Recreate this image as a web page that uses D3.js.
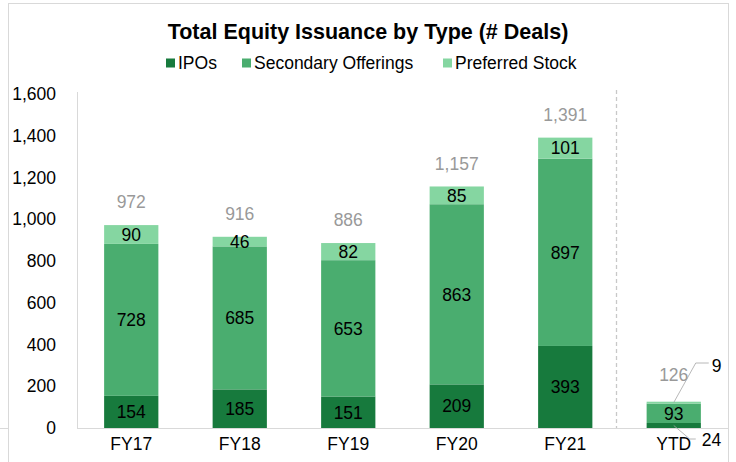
<!DOCTYPE html>
<html>
<head>
<meta charset="utf-8">
<style>
  body { margin: 0; background: #fff; }
  text { font-family: "Liberation Sans", Arial, sans-serif; }
</style>
</head>
<body>
<svg id="chart" width="736" height="462"></svg>
<script src="https://cdn.jsdelivr.net/npm/d3@7"></script>
<script>
// data
var years = ['FY17', 'FY18', 'FY19', 'FY20', 'FY21', 'YTD']
var ipos = [154, 185, 151, 209, 393, 24]
var secondary = [728, 685, 653, 863, 897, 93]
var preferred = [90, 46, 82, 85, 101, 9]
var seriesNames = ['IPOs', 'Secondary Offerings', 'Preferred Stock']
var yTicks = [0, 200, 400, 600, 800, 1000, 1200, 1400, 1600]

var colors = ['#177a3d', '#4aad6f', '#85d6a1']
var fs = 17.5

let svg = d3.select('#chart')

// outer frame (spreadsheet chart box)
svg.append('rect')
  .attr('x', 8.5).attr('y', 3.5)
  .attr('width', 720).attr('height', 470)
  .attr('fill', 'white').attr('stroke', '#d9d9d9')
svg.append('line')   // cell gridline poking out left
  .attr('x1', 0).attr('x2', 8).attr('y1', 428.5).attr('y2', 428.5)
  .attr('stroke', '#d9d9d9')

let table = years.map((y, i) => ({ year: y, IPOs: ipos[i], 'Secondary Offerings': secondary[i], 'Preferred Stock': preferred[i], total: ipos[i] + secondary[i] + preferred[i] }))

let x = d3.scaleBand().domain(years).range([77, 728]).paddingInner(0.5).paddingOuter(0.25)
let y = d3.scaleLinear().domain([0, 1600]).range([428, 94])

let stack = d3.stack().keys(seriesNames)(table)

// y axis
let yAxis = svg.append('g')
  .attr('transform', 'translate(77,0)')
  .call(d3.axisLeft(y).tickValues(yTicks).tickSize(0).tickPadding(21).tickFormat(d3.format(',')))
yAxis.select('.domain').attr('stroke', '#d9d9d9').attr('d', 'M0.5,92V428')
yAxis.selectAll('text').attr('font-size', fs).attr('fill', '#000')
  .style('font-family', '"Liberation Sans", Arial, sans-serif')

// x axis
let xAxis = svg.append('g')
  .attr('transform', 'translate(0,428)')
  .call(d3.axisBottom(x).tickSize(0).tickPadding(10))
xAxis.select('.domain').attr('stroke', '#d9d9d9').attr('d', 'M77,0.5H728')
xAxis.selectAll('text').attr('font-size', fs).attr('fill', '#000')
  .style('font-family', '"Liberation Sans", Arial, sans-serif')

// dashed separator before YTD
let sepX = x('YTD') - (x.step() - x.bandwidth()) / 2 - 3
svg.append('line')
  .attr('x1', sepX).attr('x2', sepX)
  .attr('y1', 90).attr('y2', 428)
  .attr('stroke', '#c8c8c8').attr('stroke-width', 1.3)
  .attr('stroke-dasharray', '4,3')

// bars
let layers = svg.selectAll('g.layer')
  .data(stack).enter().append('g')
  .attr('class', 'layer')
  .attr('fill', (d, i) => colors[i])

layers.selectAll('rect')
  .data(d => d).enter().append('rect')
  .attr('x', d => x(d.data.year))
  .attr('width', x.bandwidth())
  .attr('y', d => y(d[1]))
  .attr('height', d => y(d[0]) - y(d[1]))

// segment labels (not for YTD small ones)
stack.forEach((layer, li) => {
  layer.forEach(d => {
    let yr = d.data.year
    if (yr == 'YTD' && li != 1) return
    svg.append('text')
      .attr('x', x(yr) + x.bandwidth() / 2)
      .attr('y', (y(d[0]) + y(d[1])) / 2)
      .attr('dy', '0.36em')
      .attr('text-anchor', 'middle')
      .attr('font-size', fs)
      .attr('fill', '#000')
      .text(d3.format(',')(d[1] - d[0]))
  })
})

// totals
table.forEach(d => {
  let cx = x(d.year) + x.bandwidth() / 2
  svg.append('text')
    .attr('x', cx)
    .attr('y', d.year == 'YTD' ? 375 : y(d.total) - 23)
    .attr('dy', '0.36em')
    .attr('text-anchor', 'middle')
    .attr('font-size', fs)
    .attr('fill', '#999999')
    .text(d3.format(',')(d.total))
})

// YTD leader lines for small segments
let ytdCx = x('YTD') + x.bandwidth() / 2
let ytd = table[5]
svg.append('polyline')
  .attr('points', [[ytdCx, y(ytd.total - 4)], [ytdCx + 22, 363], [ytdCx + 35, 363]].join(' '))
  .attr('fill', 'none').attr('stroke', '#a6a6a6').attr('stroke-width', 0.8)
svg.append('text')
  .attr('x', ytdCx + 38).attr('y', 366).attr('dy', '0.36em')
  .attr('font-size', fs).attr('fill', '#000').text(preferred[5])
svg.append('polyline')
  .attr('points', [[ytdCx, y(12)], [ytdCx + 16, 439], [ytdCx + 22, 439]].join(' '))
  .attr('fill', 'none').attr('stroke', '#a6a6a6').attr('stroke-width', 0.8)
svg.append('text')
  .attr('x', ytdCx + 28).attr('y', 440).attr('dy', '0.36em')
  .attr('font-size', fs).attr('fill', '#000').text(ipos[5])

// title
svg.append('text')
  .attr('x', 368).attr('y', 31).attr('dy', '0.36em')
  .attr('text-anchor', 'middle')
  .attr('font-size', 21.5).attr('font-weight', 'bold')
  .text('Total Equity Issuance by Type (# Deals)')

// legend
let legendX = [166, 242, 443]
seriesNames.forEach((n, i) => {
  let g = svg.append('g').attr('transform', 'translate(' + legendX[i] + ',63)')
  g.append('rect').attr('x', 0).attr('y', -4.5).attr('width', 9).attr('height', 9).attr('fill', colors[i])
  g.append('text').attr('x', 12).attr('dy', '0.36em')
    .attr('font-size', fs).attr('fill', '#000').text(n)
})
</script>
</body>
</html>
